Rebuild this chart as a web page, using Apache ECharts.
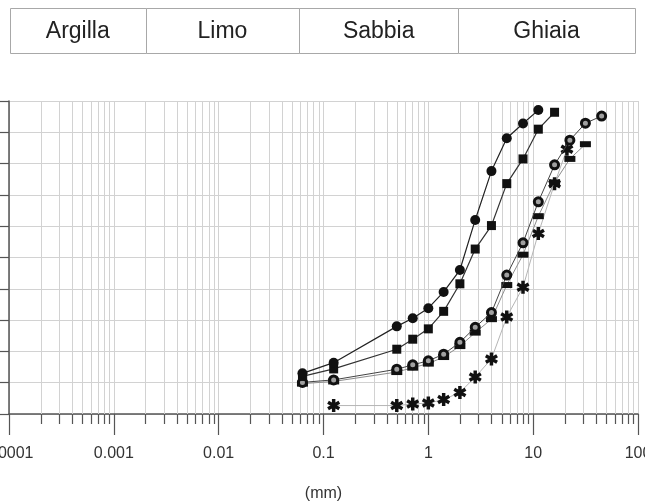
<!DOCTYPE html>
<html>
<head>
<meta charset="utf-8">
<script src="https://cdn.jsdelivr.net/npm/echarts@6/dist/echarts.min.js"></script>
<style>
  html, body { margin: 0; padding: 0; background: #fff; }
  #chart { width: 645px; height: 504px; }
</style>
</head>
<body>
<div id="chart"></div>
<script>
// ---- Data ----
const bandEdges = [0.0001, 0.002, 0.06, 2, 100];
const bandNames = ['Argilla', 'Limo', 'Sabbia', 'Ghiaia'];

const tickLabels = ['0.0001', '0.001', '0.01', '0.1', '1', '10', '100'];
const decades = [0.0001, 0.001, 0.01, 0.1, 1, 10];
const minorMultipliers = [2, 3, 4, 5, 6, 7, 8, 9];

const xFilledCircle = [0.063, 0.125, 0.5, 0.71, 1, 1.4, 2, 2.8, 4, 5.6, 8, 11.2];
const yFilledCircle = [13.0, 16.4, 28.0, 30.6, 33.8, 39.0, 46.0, 62.0, 77.6, 88.1, 92.8, 97.1];

const xFilledSquare = [0.063, 0.125, 0.5, 0.71, 1, 1.4, 2, 2.8, 4, 5.6, 8, 11.2, 16];
const yFilledSquare = [12.0, 14.4, 20.7, 23.9, 27.2, 32.8, 41.6, 52.7, 60.2, 73.6, 81.5, 91.0, 96.4];

const xOpenCircle = [0.063, 0.125, 0.5, 0.71, 1, 1.4, 2, 2.8, 4, 5.6, 8, 11.2, 16, 22.4, 31.5, 45];
const yOpenCircle = [10.1, 10.9, 14.3, 15.7, 17.0, 19.1, 22.9, 27.7, 32.4, 44.4, 54.7, 67.8, 79.6, 87.5, 92.9, 95.2];

const xDash = [0.063, 0.125, 0.5, 0.71, 1, 1.4, 2, 2.8, 4, 5.6, 8, 11.2, 16, 22.4, 31.5];
const yDash = [9.7, 10.4, 13.4, 14.8, 16.1, 18.2, 21.7, 26.0, 30.3, 41.2, 50.9, 63.2, 74.0, 81.5, 86.2];

const xStar = [0.125, 0.5, 0.71, 1, 1.4, 2, 2.8, 4, 5.6, 8, 11.2, 16, 21];
const yStar = [2.7, 2.7, 3.2, 3.5, 4.6, 6.9, 11.8, 17.6, 31.0, 40.5, 57.7, 73.6, 84.6];

// ---- Helpers ----
function pairs(xs, ys) { return xs.map((x, i) => [x, ys[i]]); }
const minorValues = [];
decades.forEach(d => minorMultipliers.forEach(m => minorValues.push([d * m, 0])));

const FONT = '"Liberation Sans", Arial, sans-serif';
const starPath = 'path://M-1.6,-6L1.6,-6L1.6,6L-1.6,6Z M4.396,-4.386L5.996,-1.614L-4.396,4.386L-5.996,1.614Z M-5.996,-1.614L-4.396,-4.386L5.996,1.614L4.396,4.386Z';

const chart = echarts.init(document.getElementById('chart'), null, { renderer: 'canvas' });

const option = {
  animation: false,
  backgroundColor: '#fff',
  grid: [
    { left: 9, right: 7, top: 101, bottom: 90, containLabel: false, outerBoundsMode: 'none' },
    { left: 10, right: 10, top: 8, height: 45, containLabel: false, outerBoundsMode: 'none' }
  ],
  xAxis: [
    {
      type: 'log', logBase: 10, min: 0.0001, max: 100, gridIndex: 0,
      name: '(mm)', nameLocation: 'middle', nameGap: 72,
      nameTextStyle: { fontFamily: FONT, fontSize: 16, color: '#333' },
      axisLine: { show: true, onZero: false, lineStyle: { color: '#555', width: 1.5 } },
      axisTick: { show: true, length: 21, inside: false, lineStyle: { color: '#555', width: 1.2 } },
      axisLabel: {
        margin: 32, fontFamily: FONT, fontSize: 16, color: '#333',
        formatter: function (v) {
          const idx = Math.round(Math.log10(v)) + 4;
          return tickLabels[idx] !== undefined ? tickLabels[idx] : '';
        }
      },
      splitLine: { show: true, lineStyle: { color: '#d2d2d2', width: 1 } },
      minorTick: { show: false },
      minorSplitLine: { show: false }
    },
    {
      type: 'log', logBase: 10, min: 0.0001, max: 100, gridIndex: 1, show: false
    }
  ],
  yAxis: [
    {
      type: 'value', min: 0, max: 100, interval: 10, gridIndex: 0,
      axisLine: { show: true, lineStyle: { color: '#555', width: 1.5 } },
      axisTick: { show: true, length: 10, inside: false, lineStyle: { color: '#555', width: 1.2 } },
      axisLabel: { show: false },
      splitLine: { show: true, lineStyle: { color: '#d2d2d2', width: 1 } }
    },
    { type: 'value', min: 0, max: 1, gridIndex: 1, show: false }
  ],
  series: [
    {
      // minor log grid lines and minor ticks
      type: 'custom', xAxisIndex: 0, yAxisIndex: 0, z: 1, clip: false, silent: true,
      data: minorValues, encode: { x: 0, y: 1 },
      renderItem: function (params, api) {
        const v = api.value(0);
        const top = api.coord([v, 100]);
        const bot = api.coord([v, 0]);
        const x = Math.round(top[0]) + 0.5;
        return {
          type: 'group', children: [
            { type: 'line', shape: { x1: x, y1: top[1], x2: x, y2: bot[1] }, style: { stroke: '#d2d2d2', lineWidth: 1 } },
            { type: 'line', shape: { x1: x, y1: bot[1], x2: x, y2: bot[1] + 10 }, style: { stroke: '#555', lineWidth: 1.2 } }
          ]
        };
      }
    },
    {
      // soil class band
      type: 'custom', xAxisIndex: 1, yAxisIndex: 1, clip: false, silent: true,
      data: bandNames.map((n, i) => [bandEdges[i], bandEdges[i + 1], 0, 1, i]),
      encode: { x: [0, 1], y: [2, 3] },
      renderItem: function (params, api) {
        const p0 = api.coord([api.value(0), api.value(3)]);
        const p1 = api.coord([api.value(1), api.value(2)]);
        const name = bandNames[api.value(4)];
        return {
          type: 'group', children: [
            { type: 'rect', shape: { x: Math.round(p0[0]) + 0.5, y: Math.round(p0[1]) + 0.5, width: Math.round(p1[0] - p0[0]), height: Math.round(p1[1] - p0[1]) },
              style: { fill: '#fff', stroke: '#a8a8a8', lineWidth: 1 } },
            { type: 'text', style: { text: name, x: (p0[0] + p1[0]) / 2, y: (p0[1] + p1[1]) / 2 + 1,
              align: 'center', verticalAlign: 'middle', fontFamily: FONT, fontSize: 23, fill: '#222' } }
          ]
        };
      }
    },
    {
      name: 'stars', type: 'line', xAxisIndex: 0, yAxisIndex: 0, z: 3,
      data: pairs(xStar, yStar),
      symbol: starPath, symbolSize: 13,
      lineStyle: { color: '#b5b5b5', width: 1 },
      itemStyle: { color: '#111' }
    },
    {
      name: 'dash', type: 'line', xAxisIndex: 0, yAxisIndex: 0, z: 4,
      data: pairs(xDash, yDash),
      symbol: 'rect', symbolSize: [11, 6],
      lineStyle: { color: '#8c8c8c', width: 1 },
      itemStyle: { color: '#111' }
    },
    {
      name: 'open', type: 'line', xAxisIndex: 0, yAxisIndex: 0, z: 5,
      data: pairs(xOpenCircle, yOpenCircle),
      symbol: 'circle', symbolSize: 8,
      lineStyle: { color: '#444', width: 1 },
      itemStyle: { color: '#a0a0a0', borderColor: '#111', borderWidth: 3 }
    },
    {
      name: 'square', type: 'line', xAxisIndex: 0, yAxisIndex: 0, z: 6,
      data: pairs(xFilledSquare, yFilledSquare),
      symbol: 'rect', symbolSize: 9,
      lineStyle: { color: '#333', width: 1.2 },
      itemStyle: { color: '#111' }
    },
    {
      name: 'circle', type: 'line', xAxisIndex: 0, yAxisIndex: 0, z: 7,
      data: pairs(xFilledCircle, yFilledCircle),
      symbol: 'circle', symbolSize: 10,
      lineStyle: { color: '#222', width: 1.2 },
      itemStyle: { color: '#111' }
    }
  ]
};

chart.setOption(option);
</script>
</body>
</html>
